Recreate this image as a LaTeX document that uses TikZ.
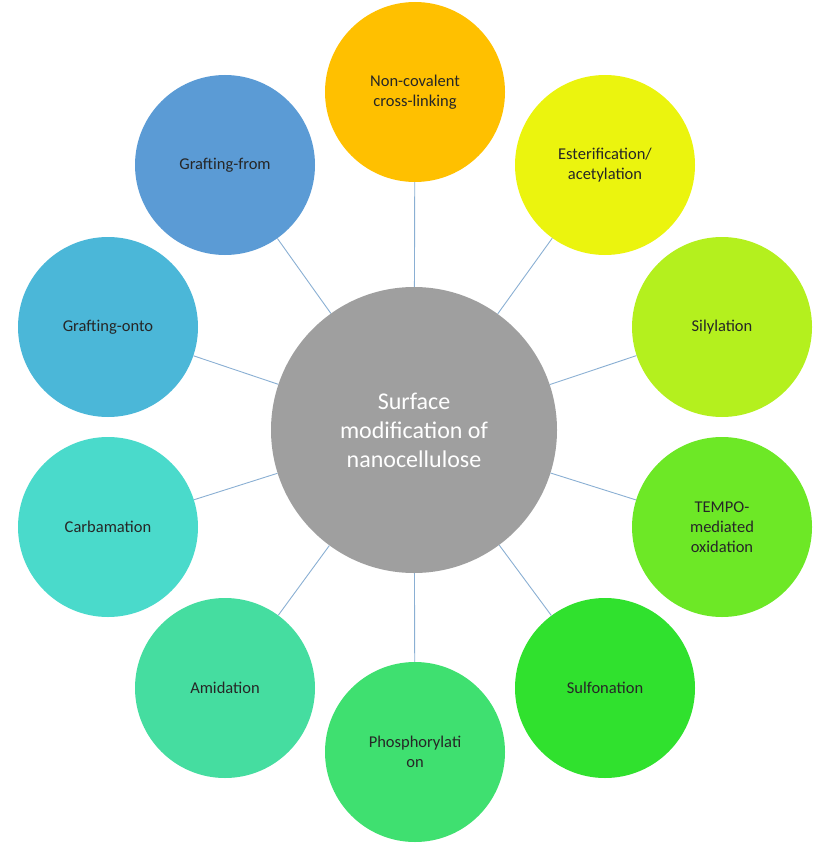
\documentclass[tikz,border=0pt]{standalone}
\usepackage{fontspec}
\setmainfont{Carlito}
\begin{document}
\begin{tikzpicture}[x=1pt,y=-1pt,
  sat/.style={circle,minimum size=180pt,inner sep=0pt,align=center,font=\fontsize{16.5}{20}\selectfont,text=black!85},
  link/.style={draw=blue!35!gray!60,line width=0.9pt}]
\useasboundingbox (0,0) rectangle (835,861);
\definecolor{c1}{HTML}{FFC000}\definecolor{c2}{HTML}{EBF40E}\definecolor{c3}{HTML}{B4F01E}
\definecolor{c4}{HTML}{6DE826}\definecolor{c5}{HTML}{30E12E}\definecolor{c6}{HTML}{3FE070}
\definecolor{c7}{HTML}{45DDA0}\definecolor{c8}{HTML}{4ADACB}\definecolor{c9}{HTML}{4BB7D8}
\definecolor{c10}{HTML}{5B9BD5}\definecolor{lk}{HTML}{8AAFD3}
\node[circle,minimum size=286pt,fill=gray!75,text=white,align=center,font=\fontsize{24}{29}\selectfont] (c) at (414,430) {Surface\\modification of\\nanocellulose};
\node[sat,fill=c1] (n1) at (415,92) {Non-covalent\\cross-linking};
\node[sat,fill=c2] (n2) at (605,165) {Esterification/\\acetylation};
\node[sat,fill=c3] (n3) at (722,327) {Silylation};
\node[sat,fill=c4] (n4) at (722,527) {TEMPO-\\mediated\\oxidation};
\node[sat,fill=c5] (n5) at (605,688) {Sulfonation};
\node[sat,fill=c6] (n6) at (415,752) {Phosphorylati\\on};
\node[sat,fill=c7] (n7) at (225,688) {Amidation};
\node[sat,fill=c8] (n8) at (108,527) {Carbamation};
\node[sat,fill=c9] (n9) at (108,327) {Grafting-onto};
\node[sat,fill=c10] (n10) at (225,165) {Grafting-from};
\foreach \i in {1,...,10} \draw[draw=lk,line width=0.9pt] (c) -- (n\i);
\end{tikzpicture}
\end{document}
